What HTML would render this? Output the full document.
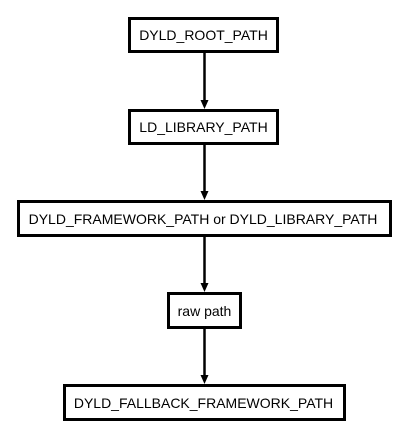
<!DOCTYPE html>
<html><head><style>html,body{margin:0;padding:0;background:#fff;}svg{display:block}</style></head>
<body>
<svg width="405" height="428" xmlns="http://www.w3.org/2000/svg" font-family="Liberation Sans, Arial, sans-serif" font-size="14" fill="#000">
<g fill="#fff" stroke="#000" stroke-width="3">
<rect x="129.5" y="18.5" width="148" height="33"/>
<rect x="129.5" y="110.5" width="148" height="33"/>
<rect x="18.5" y="201.5" width="372" height="34"/>
<rect x="168.5" y="293.5" width="72" height="34"/>
<rect x="64.5" y="385.5" width="280" height="34"/>
</g>
<g stroke="#000" stroke-width="2.5">
<line x1="204.5" y1="52" x2="204.5" y2="101"/>
<line x1="204.5" y1="144" x2="204.5" y2="192"/>
<line x1="204.5" y1="236" x2="204.5" y2="284"/>
<line x1="204.5" y1="328" x2="204.5" y2="376"/>
</g>
<g fill="#000">
<polygon points="200.5,100 208.5,100 204.5,109"/>
<polygon points="200.5,191 208.5,191 204.5,200"/>
<polygon points="200.5,283 208.5,283 204.5,292"/>
<polygon points="200.5,375 208.5,375 204.5,384"/>
</g>
<g text-anchor="middle">
<text x="203.5" y="40">DYLD_ROOT_PATH</text>
<text x="203.5" y="132">LD_LIBRARY_PATH</text>
<text x="203" y="224">DYLD_FRAMEWORK_PATH or DYLD_LIBRARY_PATH</text>
<text x="204.5" y="316">raw path</text>
<text x="203.5" y="408">DYLD_FALLBACK_FRAMEWORK_PATH</text>
</g>
</svg>
</body></html>
